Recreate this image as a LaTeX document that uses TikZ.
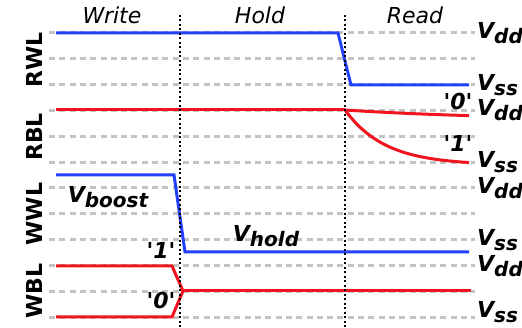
\documentclass[tikz,border=0pt]{standalone}
\usepackage{fontspec}
\setmainfont{DejaVu Sans}
\usetikzlibrary{positioning}
\definecolor{wlblue}{RGB}{35,65,250}
\definecolor{blred}{RGB}{240,20,30}
\definecolor{railgray}{RGB}{195,195,195}
\newcommand{\volt}[1]{{\fontsize{22}{26}\selectfont\bfseries\itshape V\raisebox{-4.5pt}{\fontsize{20}{24}\selectfont #1}}}
\newcommand{\bitval}[1]{\textquotesingle#1\textquotesingle}

\begin{document}
\begin{tikzpicture}[x=1pt, y=-1pt,
  rail/.style={railgray, line width=3pt, dash pattern=on 6pt off 4.3pt},
  wave/.style={line width=3pt, line join=miter},
  phase/.style={black, line width=2pt, dash pattern=on 2pt off 2.5pt},
  title/.style={font=\fontsize{22}{26}\selectfont\itshape, inner sep=0pt},
  sig/.style={font=\fontsize{22}{26}\selectfont\bfseries, rotate=90, inner sep=0pt},
  lvl/.style={anchor=west, inner sep=0pt},
  bit/.style={font=\fontsize{22}{26}\selectfont\bfseries\itshape, inner sep=0pt}]
\useasboundingbox (0,0) rectangle (522,328);
\foreach \k in {0,...,11}
  \draw[rail] (49,{33+25.82*\k}) -- (475,{33+25.82*\k});
\node[title] (wr) at (112,15) {Write};
\node[title] (hd) at (260,15) {Hold};
\node[title] (rd) at (415,15) {Read};
\node[sig] (rwl) at (34,60) {RWL};
\node[sig] (rbl) at (34,137) {RBL};
\node[sig] (wwl) at (34,214) {WWL};
\node[sig] (wbl) at (34,291) {WBL};
\node[lvl] (rwlhi) at (477,33) {\volt{dd}};
\node[lvl] (rwllo) at (477,85) {\volt{ss}};
\node[lvl] (rblhi) at (477,110) {\volt{dd}};
\node[lvl] (rbllo) at (477,162) {\volt{ss}};
\node[lvl] (wwlhi) at (477,188) {\volt{dd}};
\node[lvl] (wwllo) at (477,240) {\volt{ss}};
\node[lvl] (wblhi) at (477,266) {\volt{dd}};
\node[lvl] (wbllo) at (477,312) {\volt{ss}};
\node[inner sep=0pt] (boost) at (108,197) {\volt{boost}};
\node[inner sep=0pt] (hold) at (266,236) {\volt{hold}};
\node[bit] (rzero) at (458,101) {\bitval{0}};
\node[bit] (rone) at (458,143) {\bitval{1}};
\node[bit] (wone) at (161,250) {\bitval{1}};
\node[bit] (wzero) at (161,300) {\bitval{0}};
\draw[wave, wlblue] (56,33) -- (338,33) -- (351,85) -- (469,85);
\draw[wave, blred] (56,110) -- (345,110);
\draw[wave, blred] plot[domain=0:124, samples=40] ({345+\x},{110+10*(1-exp(-\x/150))});
\draw[wave, blred] plot[domain=0:124, samples=40] ({345+\x},{110+55*(1-exp(-\x/40))});
\draw[wave, wlblue] (56,175) -- (174,175) -- (185,252) -- (469,252);
\draw[wave, blred] (56,266) -- (172,266) -- (183,291) -- (172,317) -- (56,317);
\draw[wave, blred] (183,291) -- (471,291);
\draw[phase] (179.5,15) -- (179.5,328);
\draw[phase] (344.5,15) -- (344.5,328);
\end{tikzpicture}
\end{document}
